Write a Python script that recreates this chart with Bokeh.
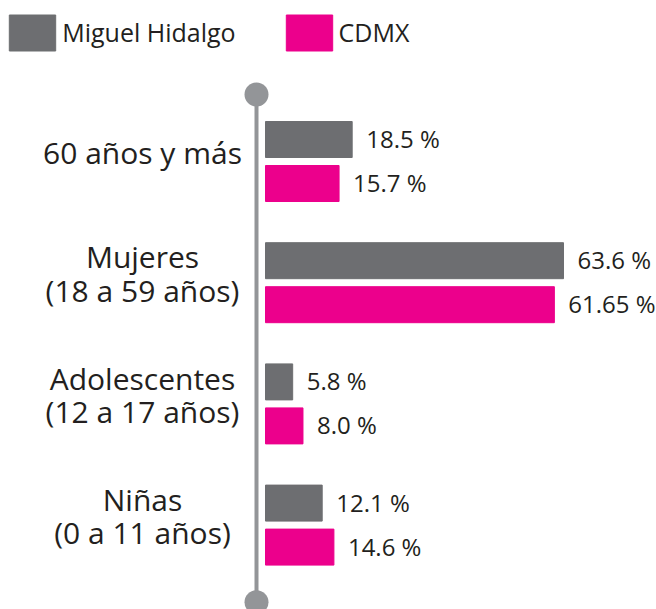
from bokeh.plotting import figure
from bokeh.models import Range1d, ColumnDataSource, Legend, LegendItem
from bokeh.embed import file_html
from bokeh.resources import INLINE
from bokeh.core.properties import value

# ---- data ----
categories = ["60 años y más", "Mujeres\n(18 a 59 años)",
              "Adolescentes\n(12 a 17 años)", "Niñas\n(0 a 11 años)"]
series_names = ["Miguel Hidalgo", "CDMX"]
miguel_hidalgo = [18.5, 63.6, 5.8, 12.1]
cdmx = [15.7, 61.65, 8.0, 14.6]
colors = ["#6d6e71", "#ec008c"]

# ---- layout constants (screen px inside frame) ----
W, H = 656, 609
BAR_X0 = 265          # px where 0 % sits
PX_PER_PCT = 298 / 63.6
G0 = 161              # px of first group centre
G_STEP = 121.2        # px between group centres
FONT = "Open Sans"
TXT = "#231f20"


def xd(px):
    return (px - BAR_X0) / PX_PER_PCT


def yd(py):
    return (py - G0) / G_STEP


p = figure(width=W, height=H, output_backend="svg", toolbar_location=None,
           x_range=Range1d(xd(0), xd(W)), y_range=Range1d(yd(H), yd(0)),
           x_axis_location=None, y_axis_location=None,
           min_border=0, min_border_left=0, min_border_right=0,
           min_border_top=0, min_border_bottom=0,
           outline_line_color=None)
p.grid.visible = False

idx = list(range(len(categories)))
off = 22 / G_STEP
hb = 36 / G_STEP

src_mh = ColumnDataSource(dict(y=[i - off for i in idx], v=miguel_hidalgo,
                               lab=[f"{v} %" for v in miguel_hidalgo]))
src_cd = ColumnDataSource(dict(y=[i + off for i in idx], v=cdmx,
                               lab=[f"{v} %" for v in cdmx]))

r1 = p.hbar(y="y", left=0, right="v", height=hb, color=colors[0], source=src_mh)
r2 = p.hbar(y="y", left=0, right="v", height=hb, color=colors[1], source=src_cd)

for src in (src_mh, src_cd):
    p.text(x="v", y="y", text="lab", x_offset=14, y_offset=-1, text_align="left",
           text_baseline="middle", text_font=value(FONT),
           text_font_size="24px", text_color=TXT, source=src)

# vertical axis line with round ends
ax = xd(256)
p.segment(x0=[ax], y0=[yd(94)], x1=[ax], y1=[yd(605)],
          line_color="#939598", line_width=4)
p.scatter(x=[ax, ax], y=[yd(94), yd(601.7)], size=24, marker="circle",
          fill_color="#939598", line_color=None)

# category labels
p.text(x=[xd(142)] * len(categories), y=[i - 9 / G_STEP for i in idx],
       text=categories, text_align="center", text_baseline="middle",
       text_font=value(FONT), text_font_size="30px", text_line_height=0.82,
       text_color=TXT)

legend = Legend(items=[LegendItem(label=series_names[0], renderers=[r1]),
                       LegendItem(label=series_names[1], renderers=[r2])],
                orientation="horizontal", location=(3.2, H - 54.5),
                glyph_width=58, glyph_height=45, label_standoff=1, spacing=44,
                padding=0, margin=0, border_line_color=None,
                background_fill_alpha=0, label_text_font=FONT,
                label_text_font_size="25px", label_text_color=TXT)
p.add_layout(legend)

open("out.html", "w").write(file_html(p, INLINE))
